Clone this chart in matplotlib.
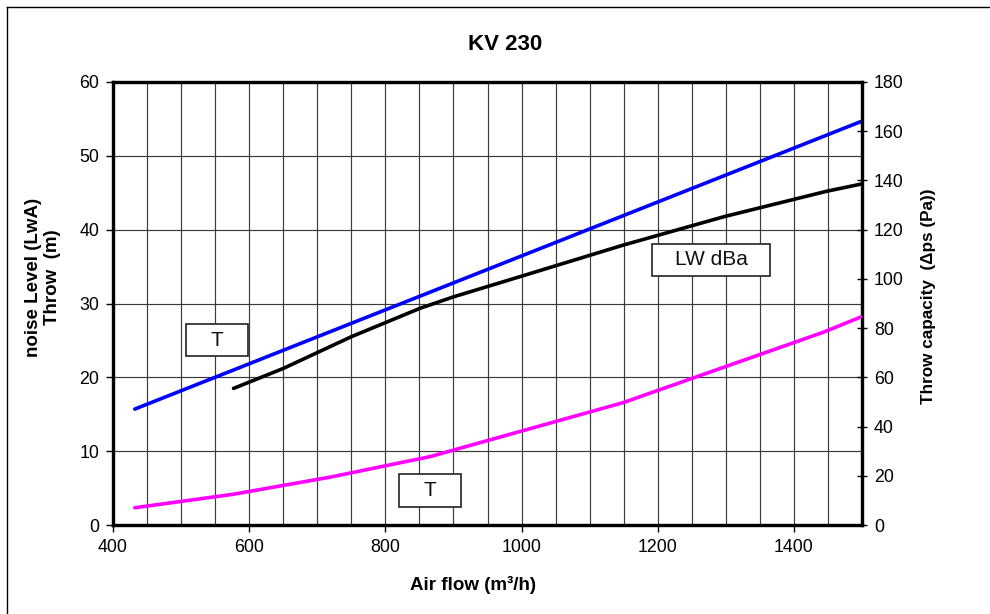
import matplotlib
matplotlib.use("Agg")
import matplotlib.pyplot as plt
from matplotlib.ticker import MultipleLocator
from matplotlib.patches import Rectangle
from matplotlib.lines import Line2D

plt.rcParams['font.family'] = ['Liberation Sans', 'DejaVu Sans']

# Data
throw_x = [432, 1500]
throw_y = [15.7, 54.7]  # Throw (m), left axis

noise_x = [577, 650, 750, 851, 900, 1000, 1149, 1299, 1448, 1500]
noise_y = [18.5, 21.2, 25.5, 29.35, 30.9, 33.7, 37.9, 41.8, 45.2, 46.2]  # LW dBa, left axis

press_x = [432, 577, 720, 866, 1149, 1443, 1500]
press_y = [7.0, 12.5, 19.5, 27.8, 49.7, 78.3, 84.7]  # Δps (Pa), right axis

x_ticks = [400, 600, 800, 1000, 1200, 1400]
left_ticks = [0, 10, 20, 30, 40, 50, 60]
right_ticks = [0, 20, 40, 60, 80, 100, 120, 140, 160, 180]

title = "KV 230"
xlabel = "Air flow (m³/h)"
ylabel_left = "noise Level (LwA)\nThrow  (m)"
ylabel_right = "Throw capacity  (Δps (Pa))"
box_labels = ["T", "LW dBa", "T"]

W, H = 990, 614
fig = plt.figure(figsize=(W / 100, H / 100), dpi=100)
fig.patch.set_facecolor('white')
ax = fig.add_axes([113 / W, 1 - 525 / H, (862 - 113) / W, (525 - 82) / H])
ax2 = ax.twinx()

ax.set_xlim(400, 1500)
ax.set_ylim(0, 60)
ax2.set_ylim(0, 180)

ax.set_xticks(x_ticks)
ax.xaxis.set_minor_locator(MultipleLocator(50))
ax.set_yticks(left_ticks)
ax2.set_yticks(right_ticks)

ax.grid(True, which='both', axis='x', color='#3a3a3a', lw=0.85)
ax.grid(True, which='major', axis='y', color='#3a3a3a', lw=0.85)
ax.set_axisbelow(True)

ax.tick_params(axis='x', which='major', direction='out', length=5, width=1, pad=5, labelsize=12.8)
ax.tick_params(axis='x', which='minor', length=0)
ax.tick_params(axis='y', direction='out', length=5, width=1, pad=5, labelsize=12.8)
ax2.tick_params(axis='y', direction='inout', length=7, width=1, pad=5, labelsize=12.8)

for a in (ax, ax2):
    for s in a.spines.values():
        s.set_linewidth(2.3)
        s.set_color('black')

ax.plot(throw_x, throw_y, color='#0000ff', lw=2.6, solid_capstyle='round', zorder=3)
ax.plot(noise_x, noise_y, color='black', lw=2.6, solid_capstyle='round', zorder=3)
ax2.plot(press_x, press_y, color='#ff00ff', lw=2.6, solid_capstyle='round', zorder=3)

# Label boxes (axes fraction)
boxes = [
    (0.0975, 0.3815, 0.0827, 0.0722),
    (0.7192, 0.5621, 0.1584, 0.0722),
    (0.3814, 0.0413, 0.0836, 0.0731),
]
for (bx, by, bw, bh), lab in zip(boxes, box_labels):
    ax2.add_patch(Rectangle((bx, by), bw, bh, transform=ax2.transAxes,
                            facecolor='white', edgecolor='#222222', lw=1.2, zorder=5))
    ax2.text(bx + bw / 2, by + bh / 2, lab, transform=ax2.transAxes,
             ha='center', va='center', fontsize=15, color='#111111', zorder=6)

fig.text(505 / W, 1 - 45 / H, title, ha='center', va='center', fontsize=16, fontweight='bold')
fig.text(473 / W, 1 - 585 / H, xlabel, ha='center', va='center', fontsize=13.5, fontweight='bold')
fig.text(43 / W, 1 - 277 / H, ylabel_left, ha='center', va='center', rotation=90,
         fontsize=13.5, fontweight='bold', linespacing=1.12)
fig.text(929 / W, 1 - 296 / H, ylabel_right, ha='center', va='center', rotation=90,
         fontsize=12.3, fontweight='bold')

# Outer frame (top and left visible)
fig.add_artist(Line2D([7 / W, 1.0], [1 - 7 / H, 1 - 7 / H], transform=fig.transFigure, color='black', lw=1))
fig.add_artist(Line2D([7 / W, 7 / W], [1 - 7 / H, 0.0], transform=fig.transFigure, color='black', lw=1))

fig.savefig('out.png', dpi=100, facecolor='white')
